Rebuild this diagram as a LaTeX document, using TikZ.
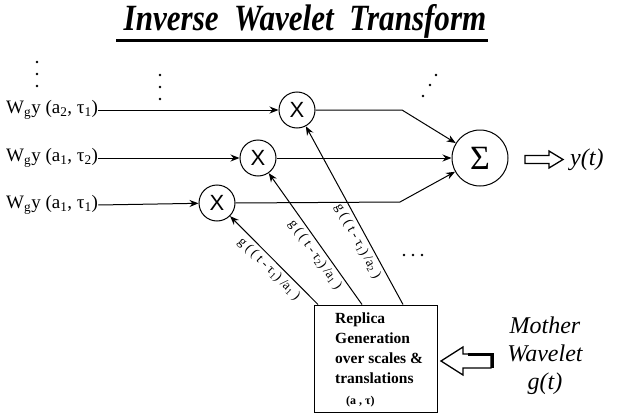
\documentclass[tikz,border=0pt]{standalone}
\usepackage{fontspec}
\setmainfont{Liberation Serif}
\newfontfamily\xsans{Liberation Sans}
\usetikzlibrary{arrows.meta,calc}
\begin{document}
\begin{tikzpicture}[x=1pt,y=-1pt,
  wire/.style={line width=1pt,-{Stealth[length=9pt,width=7pt]}},
  mult/.style={circle,draw,line width=1pt,minimum size=36pt,inner sep=0pt,
    font=\xsans\fontsize{22}{22}\selectfont},
  sumnode/.style={circle,draw,line width=1pt,minimum size=56pt,inner sep=0pt,
    font=\fontsize{34}{34}\selectfont},
  inlabel/.style={anchor=west,inner sep=0pt,font=\fontsize{19}{19}\selectfont},
  dot/.style={circle,fill,inner sep=0pt,minimum size=2.8pt},
  glabel/.style={font=\fontsize{13.5}{13.5}\selectfont,sloped,below,inner sep=3pt},
  hollow/.style={draw,line width=1.3pt,fill=white,line join=miter}
]
\useasboundingbox (0,0) rectangle (622,415);

% title
\node (title) at (305,21)
  {\scalebox{0.84}[1]{\fontsize{37}{40}\selectfont\bfseries\itshape Inverse\ \ Wavelet\ \ Transform}};
\draw[line width=3pt] (116,40) -- (488,40);

% coefficient inputs
\node[inlabel] (in1) at (6,110) {W\textsubscript{g}y (a\textsubscript{2}, τ\textsubscript{1})};
\node[inlabel] (in2) at (6,158) {W\textsubscript{g}y (a\textsubscript{1}, τ\textsubscript{2})};
\node[inlabel] (in3) at (6,205) {W\textsubscript{g}y (a\textsubscript{1}, τ\textsubscript{1})};

% continuation dots
\node[dot] (d1) at (37,62) {};
\node[dot] (d2) at (37,74) {};
\node[dot] (d3) at (37,86) {};
\node[dot] (d4) at (160,75) {};
\node[dot] (d5) at (160,87) {};
\node[dot] (d6) at (160,99) {};
\node[dot] (d7) at (423,96) {};
\node[dot] (d8) at (430,85) {};
\node[dot] (d9) at (436,75) {};
\node[dot] (d10) at (404,255) {};
\node[dot] (d11) at (413,255) {};
\node[dot] (d12) at (422,255) {};

% multipliers and summation
\node[mult] (mTop) at (297,110) {X};
\node[mult] (mMid) at (258,158) {X};
\node[mult] (mBot) at (217,203) {X};
\node[sumnode] (sum) at (480,158) {Σ};

\draw[wire] (in1.east) -- (mTop);
\draw[wire] (in2.east) -- (mMid);
\draw[wire] (in3.east) -- (mBot);

\coordinate (kTop) at (402,110);
\coordinate (kBot) at (400,202);
\draw[wire] (mTop.east) -- (kTop) -- (sum);
\draw[wire] (mMid) -- (sum);
\draw[wire] (mBot.east) -- (kBot) -- (sum);

% output
\draw[hollow] (525,155.5) -- (549,155.5) -- (549,151) -- (563,159.5) -- (549,168) -- (549,163.5) -- (525,163.5) -- cycle;
\node[anchor=west,inner sep=0pt,font=\fontsize{24}{24}\selectfont\itshape] (yt) at (570,160) {y(t)};

% replica generator
\node[draw,line width=1pt,minimum width=123pt,minimum height=107pt,inner sep=0pt] (box) at (376,358.5) {};
\node[anchor=north west,align=left,inner sep=0pt,font=\fontsize{15.5}{20}\selectfont\bfseries] (boxtext) at (335,313)
  {Replica\\Generation\\over scales \&\\translations\\[1pt]\hspace*{11pt}{\fontsize{12}{12}\selectfont (a , τ)}};

\coordinate (b1) at ($(box.north west)+(4,0)$);
\coordinate (b2) at ($(box.north west)+(48,0)$);
\coordinate (b3) at ($(box.north west)+(89,0)$);
\draw[wire] (b1) -- node[glabel,pos=0.48] {g ( ( t - τ\textsubscript{1}) /a\textsubscript{1} )} (mBot);
\draw[wire] (b2) -- node[glabel,pos=0.42] {g ( ( t - τ\textsubscript{2}) /a\textsubscript{1} )} (mMid);
\draw[wire] (b3) -- node[glabel,pos=0.38] {g ( ( t - τ\textsubscript{1}) /a\textsubscript{2} )} (mTop);

% mother wavelet input
\node[align=center,inner sep=0pt,font=\fontsize{24}{28}\selectfont\itshape] (mother) at (545,356)
  {Mother\\Wavelet\\g(t)};
\draw[hollow] (441,361) -- (463,347) -- (463,354) -- (491,354) -- (491,368) -- (463,368) -- (463,375) -- cycle;
\draw[line width=3pt] (468,354.5) -- (492,354.5) -- (492,368);
\end{tikzpicture}
\end{document}
